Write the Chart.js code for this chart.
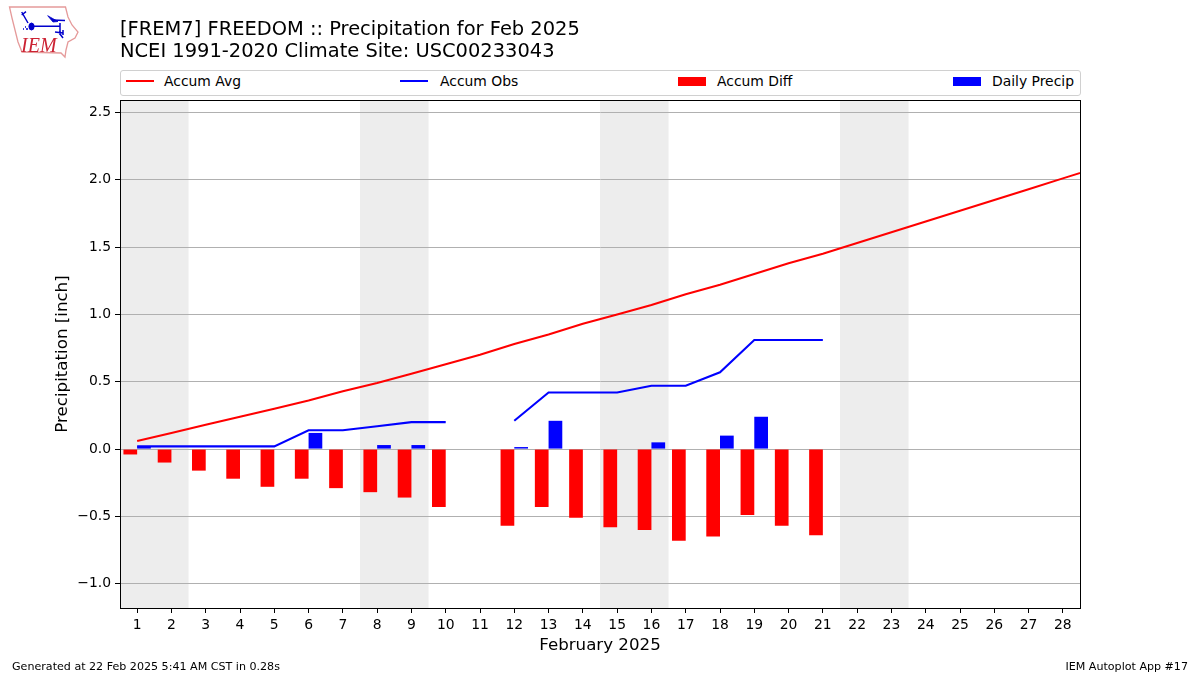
<!DOCTYPE html>
<html>
<head>
<meta charset="utf-8">
<script src="https://cdn.jsdelivr.net/npm/chart.js@4/dist/chart.umd.min.js"></script>
<style>
html, body { margin: 0; padding: 0; background: #fff; }
body { width: 1200px; height: 675px; position: relative; overflow: hidden; font-family: "DejaVu Sans", sans-serif; color: #000; }
canvas { position: absolute; left: 0; top: 0; }
.title { position: absolute; left: 120px; font-size: 19.44px; line-height: 22px; white-space: nowrap; }
.foot { position: absolute; top: 660px; font-size: 11.1px; line-height: 13px; white-space: nowrap; }
#legend { position: absolute; left: 120px; top: 70px; width: 959px; height: 24px; border: 1px solid #d0d0d0; border-radius: 3px; background: #fff; }
#legend span { position: absolute; top: 2px; font-size: 13.9px; line-height: 17px; white-space: nowrap; }
#legend i { position: absolute; display: block; left: 0; }
#logo { position: absolute; left: 0; top: 0; }
</style>
</head>
<body>
<canvas id="chart" width="1200" height="675"></canvas>

<svg id="logo" width="90" height="62">
	<polygon points="9.5,7 65.5,7 68,17 72,25 78,32 75,38 68,42 66,50 65,57 61,53 22,52 18,42 15,30 12,18" fill="#fff" stroke="#e59a9a" stroke-width="1.3"/>
	<g stroke="#0000cc" fill="#0000cc">
		<path d="M33 26.2H60M60 23V35M21.7 12L28 23M21.7 15L26 11.7M52 20L65 20.5M55 32L63 33M60 34L63 38M63 30V35" stroke-width="1.5" fill="none"/>
		<ellipse cx="31.5" cy="26.5" rx="2.6" ry="3.5"/>
		<path d="M47.7 15.7L58 21.5L53 22Z" stroke-width="0.8"/>
		<path d="M23 29h1M26 29h2M25 27h1" stroke-width="1.3" fill="none"/>
	</g>
	<text x="21" y="51.5" font-family="Liberation Serif" font-style="italic" font-size="20" fill="#cc2233">IEM</text>
</svg>

<div class="title" style="top:18px">[FREM7] FREEDOM :: Precipitation for Feb 2025</div>
<div class="title" style="top:40px">NCEI 1991-2020 Climate Site: USC00233043</div>
<div id="legend"></div>
<div class="foot" style="left:12px">Generated at 22 Feb 2025 5:41 AM CST in 0.28s</div>
<div class="foot" style="right:12px">IEM Autoplot App #17</div>

<script>
const days = [1, 2, 3, 4, 5, 6, 7, 8, 9, 10, 11, 12, 13, 14, 15, 16, 17, 18, 19, 20, 21];
const avgDays = [1, 2, 3, 4, 5, 6, 7, 8, 9, 10, 11, 12, 13, 14, 15, 16, 17, 18, 19, 20, 21, 22, 23, 24, 25, 26, 27, 28, 29];
const accumAvg = [0.06, 0.12, 0.18, 0.24, 0.30, 0.36, 0.43, 0.49, 0.56, 0.63, 0.70, 0.78, 0.85, 0.93, 1.00, 1.07, 1.15, 1.22, 1.30, 1.38, 1.45, 1.53, 1.61, 1.69, 1.77, 1.85, 1.93, 2.01, 2.09];
const accumObs = [0.02, 0.02, 0.02, 0.02, 0.02, 0.14, 0.14, 0.17, 0.20, 0.20, null, 0.21, 0.42, 0.42, 0.42, 0.47, 0.47, 0.57, 0.81, 0.81, 0.81];
const accumDiff = [-0.04, -0.10, -0.16, -0.22, -0.28, -0.22, -0.29, -0.32, -0.36, -0.43, null, -0.57, -0.43, -0.51, -0.58, -0.60, -0.68, -0.65, -0.49, -0.57, -0.64];
const dailyPrecip = [0.02, 0, 0, 0, 0, 0.12, 0, 0.03, 0.03, 0, null, 0.015, 0.21, 0, 0, 0.05, 0, 0.10, 0.24, 0, 0];
const dayTicks = [1, 2, 3, 4, 5, 6, 7, 8, 9, 10, 11, 12, 13, 14, 15, 16, 17, 18, 19, 20, 21, 22, 23, 24, 25, 26, 27, 28];
const valueTicks = [-1, -0.5, 0, 0.5, 1, 1.5, 2, 2.5];
const weekendStart = [0.5, 7.5, 14.5, 21.5];
const weekendEnd = [2.5, 9.5, 16.5, 23.5];

const tickFont = {family: "DejaVu Sans", size: 13.9};

const pairs = (xs, ys) => xs.map((x, i) => ({x: x, y: ys[i]}));

// grey weekend bands, under the grid
const weekendBands = {
	id: 'weekendBands',
	beforeDraw(chart) {
		const {ctx, chartArea, scales} = chart;
		ctx.save();
		ctx.fillStyle = '#ededed';
		weekendStart.forEach((start, i) => {
			const a = Math.max(scales.x.getPixelForValue(start), chartArea.left);
			const b = scales.x.getPixelForValue(weekendEnd[i]);
			ctx.fillRect(a, chartArea.top, b - a, chartArea.height);
		});
		ctx.restore();
	}
};

const frame = {
	id: 'frame',
	afterDraw(chart) {
		const {ctx, chartArea} = chart;
		ctx.save();
		ctx.strokeStyle = '#000';
		ctx.lineWidth = 1;
		ctx.strokeRect(chartArea.left + 0.5, chartArea.top + 0.5, chartArea.width, chartArea.height);
		ctx.restore();
	}
};

const chart = new Chart(document.getElementById('chart'), {
	type: 'bar',
	data: {
		datasets: [{
			type: 'line',
			label: 'Accum Avg',
			data: pairs(avgDays, accumAvg),
			borderColor: '#ff0000',
			backgroundColor: '#ff0000',
			borderWidth: 2.08,
			pointRadius: 0,
			tension: 0
		}, {
			type: 'line',
			label: 'Accum Obs',
			data: pairs(days, accumObs),
			borderColor: '#0000ff',
			backgroundColor: '#0000ff',
			borderWidth: 2.08,
			pointRadius: 0,
			tension: 0,
			spanGaps: false
		}, {
			label: 'Accum Diff',
			data: pairs(days, accumDiff),
			backgroundColor: '#ff0000',
			barPercentage: 1,
			categoryPercentage: 0.8
		}, {
			label: 'Daily Precip',
			data: pairs(days, dailyPrecip),
			backgroundColor: '#0000ff',
			barPercentage: 1,
			categoryPercentage: 0.8
		}]
	},
	options: {
		responsive: false,
		animation: false,
		layout: {padding: {left: 0, top: 100, right: 120, bottom: 0}},
		plugins: {legend: {display: false}, title: {display: false}, tooltip: {enabled: false}},
		scales: {
			x: {
				type: 'linear',
				offset: false,
				min: 0.5,
				max: 28.5,
				afterBuildTicks(scale) {
					scale.ticks = dayTicks.map(v => ({value: v}));
				},
				afterFit(scale) {
					scale.height = 67;
				},
				grid: {offset: false, drawOnChartArea: false, drawTicks: true, tickLength: 5, color: '#000', tickColor: '#000'},
				border: {color: '#000'},
				ticks: {
					autoSkip: false,
					maxRotation: 0,
					color: '#000',
					font: tickFont,
					padding: 4,
					callback: v => String(v)
				},
				title: {
					display: true,
					text: 'February 2025',
					color: '#000',
					font: {family: "DejaVu Sans", size: 16.67},
					padding: {top: 19, bottom: 19}
				}
			},
			y: {
				type: 'linear',
				min: -1.18,
				max: 2.592,
				afterBuildTicks(scale) {
					scale.ticks = valueTicks.map(v => ({value: v}));
				},
				afterFit(scale) {
					scale.width = 120;
				},
				grid: {color: '#b0b0b0', lineWidth: 1, drawTicks: true, tickLength: 5, tickColor: '#000'},
				border: {color: '#000'},
				ticks: {
					autoSkip: false,
					color: '#000',
					font: tickFont,
					padding: 4,
					callback: v => v.toFixed(1).replace('-', '\u2212')
				},
				title: {
					display: true,
					text: 'Precipitation [inch]',
					color: '#000',
					font: {family: "DejaVu Sans", size: 16.67},
					padding: {top: 53, bottom: 0}
				}
			}
		}
	},
	plugins: [weekendBands, frame]
});

// matplotlib style expanded legend, built from the datasets
const legendX = [5, 279, 557, 832];
const labelGap = [38, 40, 39, 39];
const legendBox = document.getElementById('legend');
chart.data.datasets.forEach((ds, i) => {
	const mark = document.createElement('i');
	const isLine = ds.type === 'line';
	mark.style.cssText = 'left:' + legendX[i] + 'px;width:28px;background:' + ds.backgroundColor + ';top:' + (isLine ? 9 : 6) + 'px;height:' + (isLine ? 2 : 9) + 'px';
	legendBox.appendChild(mark);
	const label = document.createElement('span');
	label.textContent = ds.label;
	label.style.left = (legendX[i] + labelGap[i]) + 'px';
	legendBox.appendChild(label);
});
</script>
</body>
</html>
